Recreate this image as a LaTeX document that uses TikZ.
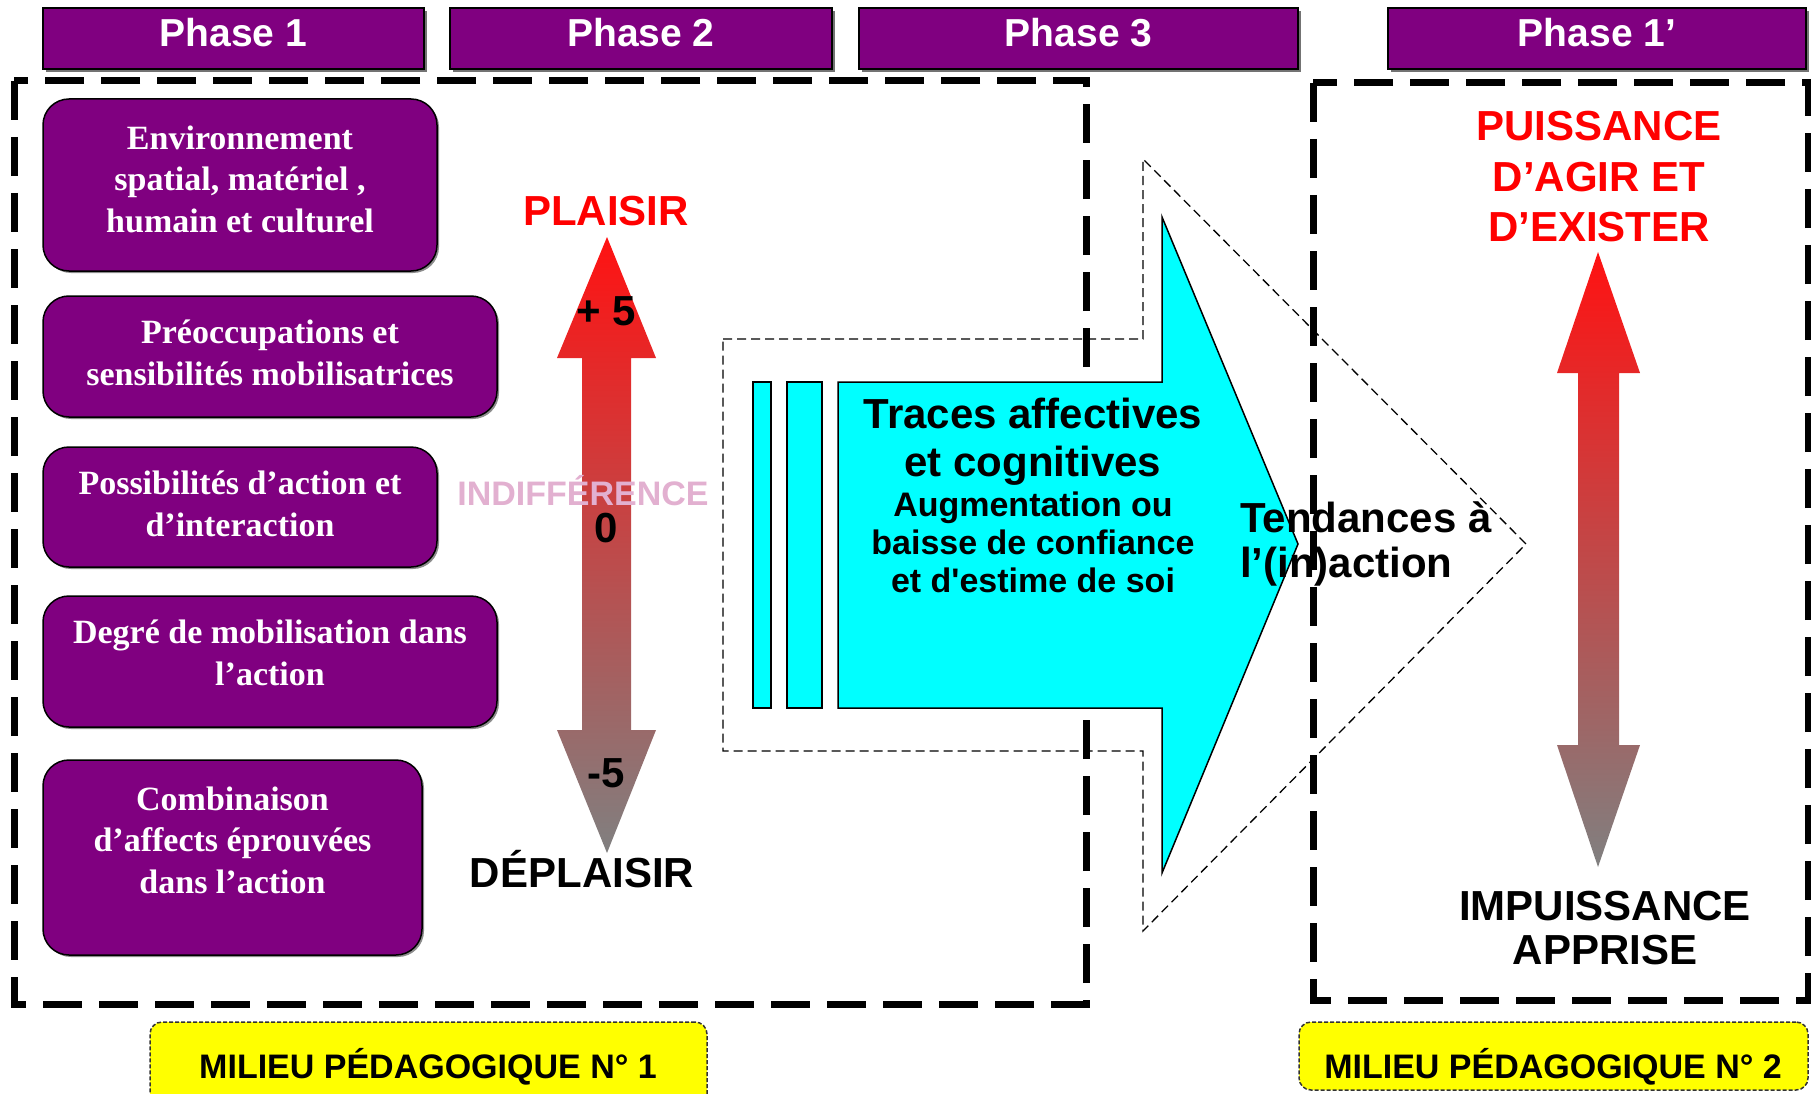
\documentclass[tikz,border=0pt]{standalone}
\usepackage{fontspec}
\setmainfont{Liberation Sans}
\newfontfamily\serifbold{Liberation Serif}
\usetikzlibrary{shadows}
\definecolor{purp}{HTML}{800080}
\definecolor{pinktxt}{RGB}{226,176,208}
\definecolor{arrowred}{RGB}{255,18,18}
\definecolor{arrowgray}{RGB}{128,128,128}
\definecolor{ylw}{RGB}{255,255,0}
\definecolor{cyanfill}{RGB}{0,255,255}
\begin{document}
\begin{tikzpicture}[x=1pt,y=-1pt,
  phasebox/.style={draw=black, line width=1.5pt, fill=purp, text=white,
    drop shadow={shadow xshift=3pt, shadow yshift=-3pt, fill=black!55, opacity=1},
    font=\bfseries\fontsize{39}{45}\selectfont, inner sep=0pt, text depth=12pt},
  pbox/.style={draw=black, line width=1.5pt, fill=purp, text=white, rounded corners=26pt,
    drop shadow={shadow xshift=2pt, shadow yshift=-2pt, fill=black!45, opacity=1},
    font=\serifbold\bfseries\fontsize{34}{41.5}\selectfont, align=center, inner sep=0pt},
  bigdash/.style={line width=7pt, dash pattern=on 39pt off 17pt},
  thindash/.style={line width=1.3pt, dash pattern=on 9pt off 5pt},
  cyanshape/.style={fill=cyanfill, draw=black, line width=1.5pt},
  ybox/.style={draw=black!80, fill=ylw, line width=1.5pt, dash pattern=on 4pt off 2pt, rounded corners=12pt, inner sep=0pt},
  big/.style={font=\bfseries\fontsize{42}{48}\selectfont, inner sep=0pt},
  mid/.style={font=\bfseries\fontsize{34}{40}\selectfont, inner sep=0pt}
]
\clip (0,0) rectangle (1811,1094);

% dashed frames
\draw[bigdash] (14,81) rectangle (1086,1004);
\draw[bigdash] (1313,83) rectangle (1808,1000);

% thin dashed outline arrow
\draw[thindash] (723,339) -- (1143,339) -- (1143,159) -- (1526,544) -- (1143,931) -- (1143,751) -- (723,751) -- cycle;

% cyan arrow with stripes
\draw[cyanshape] (753,382) rectangle (771,708);
\draw[cyanshape] (787,382) rectangle (822,708);
\draw[cyanshape] (838,382) -- (1162,382) -- (1162,217) -- (1298,544) -- (1162,873) -- (1162,708) -- (838,708) -- cycle;

% gradient double arrows
\path[top color=arrowred, bottom color=arrowgray] (607,237) -- (656,358) -- (631,358) -- (631,730) -- (656,730) -- (607,853) -- (557,730) -- (582,730) -- (582,358) -- (557,358) -- cycle;
\path[top color=arrowred, bottom color=arrowgray] (1598,252) -- (1640,373) -- (1619,373) -- (1619,745) -- (1640,745) -- (1598,867) -- (1557,745) -- (1578,745) -- (1578,373) -- (1557,373) -- cycle;

% phase headers
\node[phasebox, minimum width=381pt, minimum height=61pt] (ph1) at (233.5,38.5) {Phase 1};
\node[phasebox, minimum width=382pt, minimum height=61pt] (ph2) at (641,38.5) {Phase 2};
\node[phasebox, minimum width=439pt, minimum height=61pt] (ph3) at (1078.5,38.5) {Phase 3};
\node[phasebox, minimum width=418pt, minimum height=61pt] (ph4) at (1597,38.5) {Phase 1’};

% purple boxes
\node[pbox, minimum width=394pt, minimum height=172pt, text depth=12pt] (b1) at (240,185) {Environnement\\spatial, matériel ,\\humain et culturel};
\node[pbox, minimum width=454pt, minimum height=121pt, text depth=8pt] (b2) at (270,356.5) {Préoccupations et\\sensibilités mobilisatrices};
\node[pbox, minimum width=394pt, minimum height=120pt, text depth=7pt] (b3) at (240,507) {Possibilités d’action et\\d’interaction};
\node[pbox, minimum width=454pt, minimum height=131pt, text depth=18pt] (b4) at (270,661.5) {Degré de mobilisation dans\\l’action};
\node[pbox, minimum width=379pt, minimum height=195pt, text depth=35pt] (b5) at (232.5,857.5) {Combinaison\\d’affects éprouvées\\dans l’action};

% left arrow labels
\node[big, text=red] (plaisir) at (606,211) {PLAISIR};
\node[big] (plus5) at (606,311) {+ 5};
\node[font=\bfseries\fontsize{34}{38}\selectfont, inner sep=0pt, text=pinktxt] (indiff) at (583,491) {INDIFFÉRENCE};
\node[big] (zero) at (606,528) {0};
\node[big] (minus5) at (606,773) {-5};
\node[big] (deplaisir) at (582,869) {DÉPLAISIR};

% cyan arrow texts
\node[big, align=center, font=\bfseries\fontsize{42}{48}\selectfont] (traces) at (1033,442) {Traces affectives\\et cognitives};
\node[mid, align=center, font=\bfseries\fontsize{34}{38}\selectfont] (augm) at (1033,542.5) {Augmentation ou\\baisse de confiance\\et d\textquotesingle estime de soi};
\node[big, align=left, anchor=west, font=\bfseries\fontsize{42}{45}\selectfont] (tend) at (1240,543.5) {Tendances à\\l’(in)action};

% right side texts
\node[big, align=center, text=red, font=\bfseries\fontsize{42}{50.5}\selectfont] (puiss) at (1599,177) {PUISSANCE\\D’AGIR ET\\D’EXISTER};
\node[big, align=center, font=\bfseries\fontsize{42}{44}\selectfont] (impuiss) at (1605,928) {IMPUISSANCE\\APPRISE};

% bottom yellow boxes
\node[ybox, minimum width=557pt, minimum height=96pt] (m1) at (428.5,1070) {};
\node[ybox, minimum width=509pt, minimum height=68pt] (m2) at (1553.5,1056) {};
\node[mid] (m1t) at (428,1067) {MILIEU PÉDAGOGIQUE N° 1};
\node[mid] (m2t) at (1553,1067) {MILIEU PÉDAGOGIQUE N° 2};
\end{tikzpicture}
\end{document}
